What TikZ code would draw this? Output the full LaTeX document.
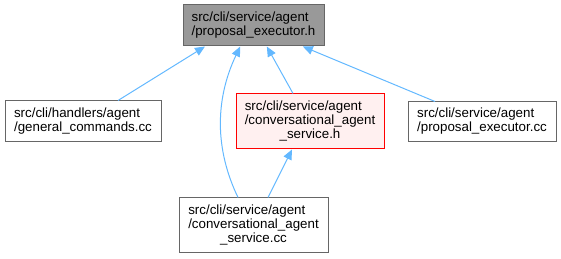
\documentclass[tikz,border=0pt]{standalone}
\usepackage{fontspec}
\setmainfont{Liberation Sans}
\usepackage{xcolor}
\usetikzlibrary{arrows.meta}
\definecolor{edgeblue}{HTML}{63B8FF}
\definecolor{boxgray}{HTML}{999999}
\definecolor{boxline}{HTML}{666666}
\definecolor{curfill}{HTML}{FFF0F0}
% two left-aligned lines, optional centered third line
\newcommand{\twoline}[2]{\begin{tabular}{@{}l@{}}#1\\#2\end{tabular}}
\newcommand{\threeline}[3]{\begin{tabular}{@{}l@{}}#1\\#2\\\multicolumn{1}{@{}c@{}}{#3}\end{tabular}}

\begin{document}
\begin{tikzpicture}[x=0.75pt, y=-0.75pt,
    file/.style={draw=boxline, line width=0.75pt, fill=white, inner sep=0pt,
                 font=\fontsize{10}{10.7}\selectfont},
    edge/.style={edgeblue, line width=0.75pt, -{Triangle[length=7.5pt, width=6.5pt]}}]
    \useasboundingbox (0,0) rectangle (561,259);

    % Header being included
    \node[file, fill=boxgray, minimum width=105.75pt, minimum height=30.75pt] (top) at (253.5, 25.5)
        {\twoline{src/cli/service/agent}{/proposal\_executor.h}};

    % Files that include it
    \node[file, minimum width=117pt, minimum height=30.75pt] (gen) at (83, 121.5)
        {\twoline{src/cli/handlers/agent}{/general\_commands.cc}};
    \node[file, draw=red, fill=curfill, minimum width=111pt, minimum height=41.25pt] (cash) at (310, 121.5)
        {\threeline{src/cli/service/agent}{/conversational\_agent}{\_service.h}};
    \node[file, minimum width=111pt, minimum height=30pt] (pecc) at (482, 122)
        {\twoline{src/cli/service/agent}{/proposal\_executor.cc}};
    \node[file, minimum width=111.75pt, minimum height=41.25pt] (cascc) at (253.5, 225.5)
        {\threeline{src/cli/service/agent}{/conversational\_agent}{\_service.cc}};

    % Include edges
    \draw[edge] ([xshift=26.25pt]gen.north) -- ([xshift=-36.4pt]top.south);
    \draw[edge] ([xshift=-11.6pt]cascc.north) .. controls ([xshift=-29pt, yshift=36pt]cascc.north)
        and ([xshift=-29pt, yshift=-40pt]top.south) .. ([xshift=-10pt]top.south);
    \draw[edge] ([xshift=-12.75pt]cash.north) -- ([xshift=10pt]top.south);
    \draw[edge] ([xshift=-35.25pt]pecc.north) -- ([xshift=37pt]top.south);
    \draw[edge] ([xshift=10.9pt]cascc.north) -- ([xshift=-13.5pt]cash.south);
\end{tikzpicture}
\end{document}
